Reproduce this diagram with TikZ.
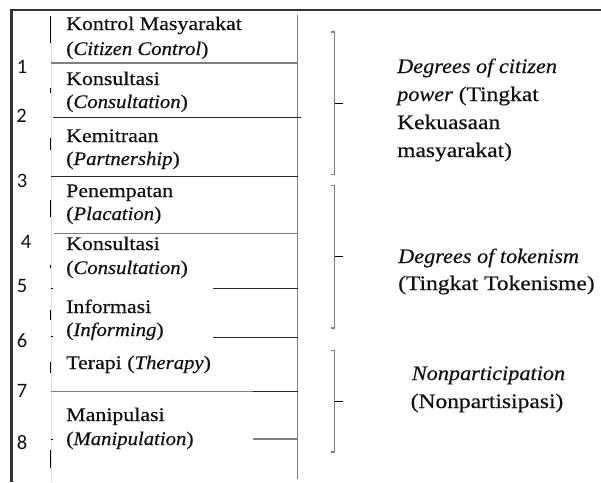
\documentclass[tikz,border=0pt]{standalone}
\usepackage{fontspec}
\setmainfont{Liberation Serif}[FakeStretch=1.14, FakeBold=0.5, ItalicFeatures={FakeStretch=1.08}]
\newfontfamily\numfont{Carlito}
\definecolor{lgray}{HTML}{7F7F7F}
\definecolor{frame}{HTML}{333333}
\definecolor{ink}{HTML}{111111}
\tikzset{
  lbl/.style={anchor=base west, inner sep=0pt, text=ink, font=\fontsize{19.2}{22}\selectfont},
  rlbl/.style={anchor=base west, inner sep=0pt, text=ink, font=\fontsize{20.6}{24}\selectfont},
  clbl/.style={anchor=base, inner sep=0pt, text=ink, font=\fontsize{20.6}{24}\selectfont},
  num/.style={anchor=center, inner sep=0pt, text=ink, font=\numfont\fontsize{20.5}{22}\selectfont},
  grayline/.style={draw=lgray, line width=1.1pt},
  blackline/.style={draw=black!85, line width=1pt},
  tick/.style={draw=black, line width=1pt},
  brk/.style={draw=lgray, line width=1.3pt},
  brktick/.style={draw=black, line width=1pt}
}
\begin{document}
\begin{tikzpicture}[x=1pt,y=-1pt]
\useasboundingbox (0,0) rectangle (601,482);
% frame
\draw[draw=frame, line width=2.6pt] (10,10) -- (601,10);
\draw[draw=frame, line width=3pt] (11.5,8.7) -- (11.5,482);
% faint left cell border
\draw[draw=gray!25, line width=0.6pt] (51,43) -- (51,482);
% right column line
\draw[grayline] (297.5,15) -- (297.5,479);
% horizontal rungs
\draw[grayline] (51,63) -- (297.5,63);
\draw[blackline] (53,117.5) -- (300.5,117.5);
\draw[blackline] (51,176) -- (297.5,176);
\draw[grayline] (54,233.5) -- (297.5,233.5);
\draw[blackline] (213,288) -- (297.5,288);
\draw[blackline] (213,337) -- (297.5,337);
\draw[grayline] (51,391.5) -- (253,391.5);
\draw[blackline] (253,391.5) -- (297.5,391.5);
\draw[grayline] (253,439) -- (297.5,439);
% small ticks on the left
\foreach \a/\b in {16/43, 88/93, 138/150, 200/217, 265/268, 310/320, 362/373, 450/468}
  \draw[tick] (50.5,\a) -- (50.5,\b);
\foreach \a in {288, 336, 439}
  \draw[draw=black, line width=0.8pt] (51,\a) -- (53,\a);
% brackets
\foreach \t/\m/\b in {32/103.3/174.5, 185.5/256.7/328, 350.7/401.7/452}{
  \draw[brk] (331,\t) -- (334.5,\t) -- (334.5,\b) -- (331,\b);
  \draw[brktick] (334.5,\m) -- (343,\m);
}
% numbers
\node[num] (n1) at (22,67) {1};
\node[num] (n2) at (21.5,116) {2};
\node[num] (n3) at (22,181) {3};
\node[num] (n4) at (26,242) {4};
\node[num] (n5) at (22,286) {5};
\node[num] (n6) at (22,341) {6};
\node[num] (n7) at (22,391) {7};
\node[num] (n8) at (22,443) {8};
% ladder texts
\node[lbl] (a1) at (66,30) {Kontrol Masyarakat};
\node[lbl] (a2) at (66,55) {(\textit{Citizen Control})};
\node[lbl] (b1) at (66,85) {Konsultasi};
\node[lbl] (b2) at (66,108) {(\textit{Consultation})};
\node[lbl] (c1) at (66,142) {Kemitraan};
\node[lbl] (c2) at (66,165) {(\textit{Partnership})};
\node[lbl] (d1) at (66,197) {Penempatan};
\node[lbl] (d2) at (66,220) {(\textit{Placation})};
\node[lbl] (e1) at (66,250) {Konsultasi};
\node[lbl] (e2) at (66,274) {(\textit{Consultation})};
\node[lbl] (f1) at (66,313) {Informasi};
\node[lbl] (f2) at (66,336) {(\textit{Informing})};
\node[lbl] (g1) at (66,369) {Terapi (\textit{Therapy})};
\node[lbl] (h1) at (66,421) {Manipulasi};
\node[lbl] (h2) at (66,445) {(\textit{Manipulation})};
% right texts
\node[rlbl] (p1) at (397,73) {\textit{Degrees of citizen}};
\node[rlbl] (p2) at (397,101) {\textit{power} (Tingkat};
\node[rlbl] (p3) at (397,129) {Kekuasaan};
\node[rlbl] (p4) at (397,157) {masyarakat)};
\node[rlbl] (q1) at (398,263) {\textit{Degrees of tokenism}};
\node[rlbl] (q2) at (398,290) {(Tingkat Tokenisme)};
\node[clbl] (r1) at (488.5,380) {\textit{Nonparticipation}};
\node[clbl] (r2) at (487,408) {(Nonpartisipasi)};
\end{tikzpicture}
\end{document}
